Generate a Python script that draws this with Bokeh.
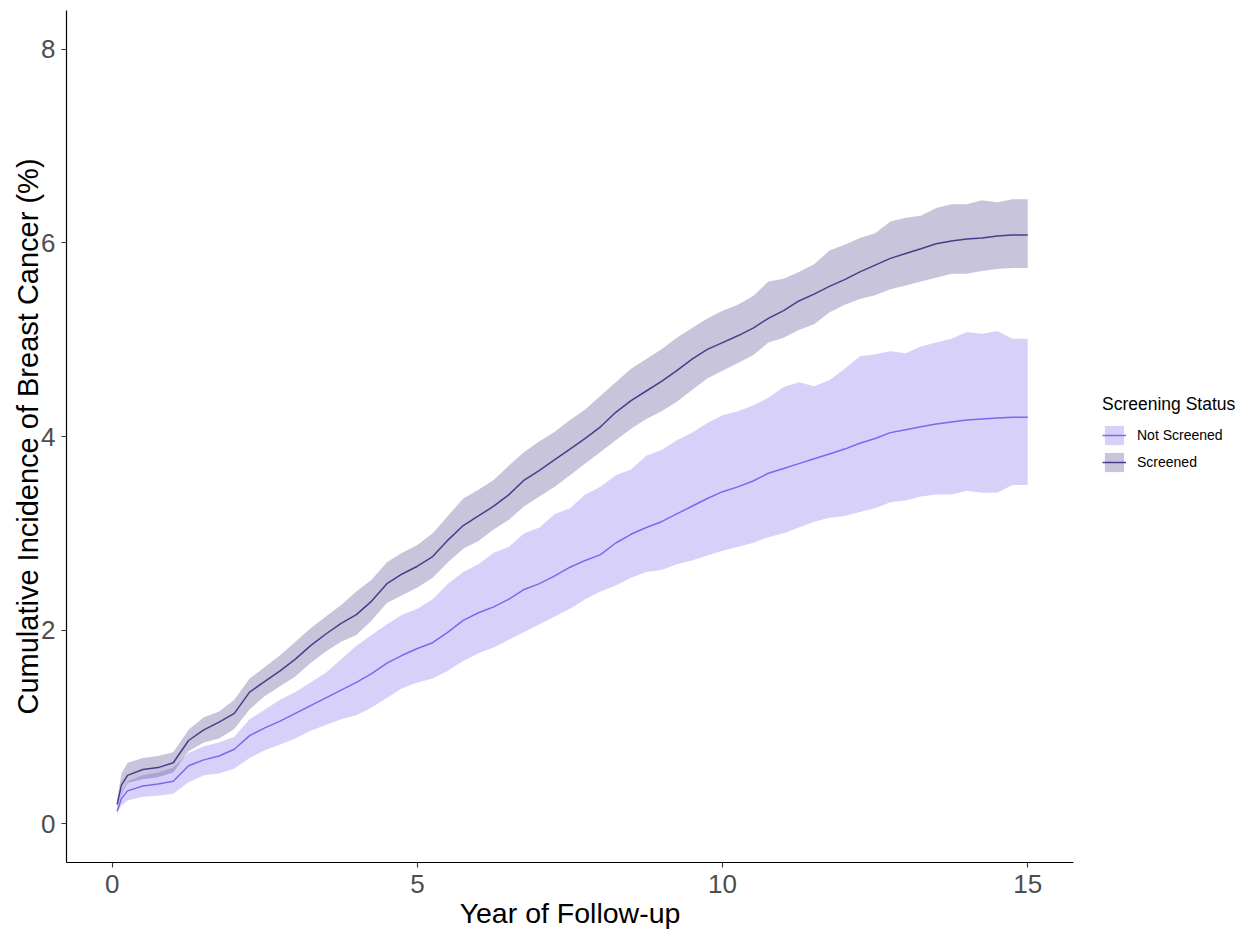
from bokeh.plotting import figure
from bokeh.models import Range1d, FixedTicker, Legend, LegendItem, ColumnDataSource
from bokeh.embed import file_html
from bokeh.resources import INLINE

# Year of follow-up
years = [0.08, 0.15, 0.25, 0.5, 0.75, 1.0, 1.25, 1.5, 1.75, 2.0, 2.25, 2.5, 2.75, 3.0,
         3.25, 3.5, 3.75, 4.0, 4.25, 4.5, 4.75, 5.0, 5.25, 5.5, 5.75, 6.0, 6.25, 6.5,
         6.75, 7.0, 7.25, 7.5, 7.75, 8.0, 8.25, 8.5, 8.75, 9.0, 9.25, 9.5, 9.75, 10.0,
         10.25, 10.5, 10.75, 11.0, 11.25, 11.5, 11.75, 12.0, 12.25, 12.5, 12.75, 13.0,
         13.25, 13.5, 13.75, 14.0, 14.25, 14.5, 14.75, 15.0]

# Screened: cumulative incidence (%) with confidence band
screened = [0.20, 0.40, 0.50, 0.56, 0.58, 0.63, 0.86, 0.97, 1.05, 1.14, 1.36, 1.47, 1.58, 1.70,
            1.84, 1.96, 2.07, 2.16, 2.30, 2.48, 2.58, 2.66, 2.76, 2.93, 3.08, 3.18, 3.28, 3.40,
            3.55, 3.65, 3.76, 3.87, 3.98, 4.10, 4.25, 4.37, 4.47, 4.57, 4.68, 4.80, 4.90, 4.97,
            5.04, 5.12, 5.22, 5.30, 5.40, 5.47, 5.55, 5.62, 5.70, 5.77, 5.84, 5.89,
            5.94, 5.99, 6.02, 6.04, 6.05, 6.07, 6.08, 6.08]
screened_upper = [0.25, 0.52, 0.63, 0.68, 0.70, 0.74, 0.97, 1.10, 1.16, 1.28, 1.50, 1.62, 1.74, 1.88,
                  2.02, 2.14, 2.26, 2.40, 2.52, 2.70, 2.80, 2.88, 3.00, 3.18, 3.36, 3.45, 3.55, 3.70,
                  3.84, 3.95, 4.05, 4.17, 4.28, 4.42, 4.56, 4.70, 4.80, 4.90, 5.02, 5.12, 5.22, 5.30,
                  5.36, 5.45, 5.60, 5.63, 5.70, 5.78, 5.92, 5.98, 6.05, 6.10, 6.22, 6.26,
                  6.28, 6.36, 6.40, 6.40, 6.44, 6.42, 6.45, 6.45]
screened_lower = [0.16, 0.30, 0.42, 0.46, 0.48, 0.53, 0.75, 0.84, 0.88, 0.98, 1.18, 1.32, 1.42, 1.52,
                  1.66, 1.78, 1.88, 1.95, 2.10, 2.28, 2.36, 2.44, 2.54, 2.70, 2.84, 2.92, 3.04, 3.14,
                  3.28, 3.38, 3.48, 3.60, 3.72, 3.84, 3.96, 4.08, 4.18, 4.26, 4.36, 4.48, 4.60, 4.68,
                  4.76, 4.84, 4.97, 5.02, 5.10, 5.16, 5.28, 5.36, 5.42, 5.46, 5.52, 5.56,
                  5.60, 5.64, 5.68, 5.68, 5.71, 5.73, 5.74, 5.74]

# Not screened
not_screened = [0.13, 0.26, 0.34, 0.39, 0.41, 0.44, 0.60, 0.66, 0.70, 0.77, 0.91, 0.99, 1.06, 1.14,
                1.22, 1.30, 1.38, 1.46, 1.55, 1.66, 1.74, 1.81, 1.87, 1.98, 2.10, 2.18, 2.24, 2.32,
                2.42, 2.48, 2.56, 2.65, 2.72, 2.78, 2.90, 2.99, 3.06, 3.12, 3.20, 3.28, 3.36, 3.43,
                3.48, 3.54, 3.62, 3.67, 3.72, 3.77, 3.82, 3.87, 3.93, 3.98, 4.04, 4.07,
                4.10, 4.13, 4.15, 4.17, 4.18, 4.19, 4.20, 4.20]
not_screened_upper = [0.15, 0.32, 0.44, 0.50, 0.53, 0.58, 0.73, 0.80, 0.84, 0.90, 1.08, 1.18, 1.28, 1.36,
                      1.46, 1.56, 1.70, 1.84, 1.95, 2.06, 2.16, 2.22, 2.32, 2.48, 2.60, 2.68, 2.80, 2.86,
                      3.00, 3.06, 3.20, 3.26, 3.40, 3.48, 3.60, 3.66, 3.80, 3.86, 3.96, 4.04, 4.14, 4.22,
                      4.26, 4.32, 4.40, 4.51, 4.56, 4.52, 4.58, 4.70, 4.83, 4.85, 4.88, 4.86,
                      4.93, 4.97, 5.01, 5.08, 5.06, 5.09, 5.01, 5.01]
not_screened_lower = [0.11, 0.19, 0.24, 0.28, 0.29, 0.31, 0.43, 0.50, 0.52, 0.57, 0.68, 0.76, 0.82, 0.88,
                      0.96, 1.02, 1.08, 1.12, 1.20, 1.30, 1.40, 1.46, 1.50, 1.58, 1.68, 1.76, 1.82, 1.90,
                      1.98, 2.06, 2.14, 2.22, 2.32, 2.40, 2.46, 2.54, 2.60, 2.62, 2.68, 2.72, 2.77, 2.82,
                      2.86, 2.90, 2.96, 3.00, 3.06, 3.12, 3.16, 3.18, 3.22, 3.26, 3.32, 3.34,
                      3.38, 3.40, 3.40, 3.44, 3.42, 3.42, 3.50, 3.50]

x_ticks = [0, 5, 10, 15]
y_ticks = [0, 2, 4, 6, 8]
group_labels = ["Not Screened", "Screened"]
legend_title = "Screening Status"

NS_COLOR = "#7B68EE"
S_COLOR = "#483D8B"
FONT = "Liberation Sans"

src = ColumnDataSource(dict(
    x=years, s=screened, su=screened_upper, sl=screened_lower,
    n=not_screened, nu=not_screened_upper, nl=not_screened_lower))

p = figure(frame_width=1007, frame_height=852, output_backend="svg", toolbar_location=None,
           x_range=Range1d(-0.75, 15.75), y_range=Range1d(-0.4, 8.4),
           min_border_left=66, min_border_right=175, min_border_top=10, min_border_bottom=0,
           background_fill_color="white", border_fill_color="white")

ns_band = p.varea(x="x", y1="nl", y2="nu", source=src, fill_color=NS_COLOR, fill_alpha=0.3)
s_band = p.varea(x="x", y1="sl", y2="su", source=src, fill_color=S_COLOR, fill_alpha=0.3)
ns_line = p.line(x="x", y="n", source=src, line_color=NS_COLOR, line_width=1.5)
s_line = p.line(x="x", y="s", source=src, line_color=S_COLOR, line_width=1.5)

p.outline_line_color = None
p.grid.visible = False

for ax in (p.xaxis[0], p.yaxis[0]):
    ax.axis_line_color = "black"
    ax.axis_line_width = 1.2
    ax.major_tick_line_color = "#333333"
    ax.major_tick_line_width = 1.1
    ax.major_tick_out = 5
    ax.major_tick_in = 0
    ax.minor_tick_line_color = None
    ax.major_label_text_font = FONT
    ax.major_label_text_color = "#4D4D4D"
    ax.major_label_text_font_size = "26px"
    ax.axis_label_text_font = FONT
    ax.axis_label_text_font_style = "normal"
    ax.axis_label_text_color = "black"

p.xaxis.ticker = FixedTicker(ticks=x_ticks)
p.yaxis.ticker = FixedTicker(ticks=y_ticks)
p.xaxis.axis_label = "Year of Follow-up"
p.yaxis.axis_label = "Cumulative Incidence of Breast Cancer (%)"
p.xaxis.axis_label_text_font_size = "28.5px"
p.yaxis.axis_label_text_font_size = "29px"
p.xaxis.major_label_standoff = 7
p.xaxis.axis_label_standoff = 1
p.yaxis.major_label_standoff = 6
p.yaxis.axis_label_standoff = -6

legend = Legend(
    items=[LegendItem(label=group_labels[0], renderers=[ns_band, ns_line]),
           LegendItem(label=group_labels[1], renderers=[s_band, s_line])],
    location=(29, 388), title=legend_title,
    title_text_font=FONT, title_text_font_size="17.5px", title_text_font_style="normal",
    title_text_color="black", title_standoff=8,
    label_text_font=FONT, label_text_font_size="14px", label_text_color="black",
    glyph_width=24, glyph_height=24, label_height=24, label_standoff=11, spacing=3,
    padding=0, margin=0, background_fill_alpha=0, border_line_color=None)
p.add_layout(legend, "right")

open("out.html", "w").write(file_html(p, INLINE))
